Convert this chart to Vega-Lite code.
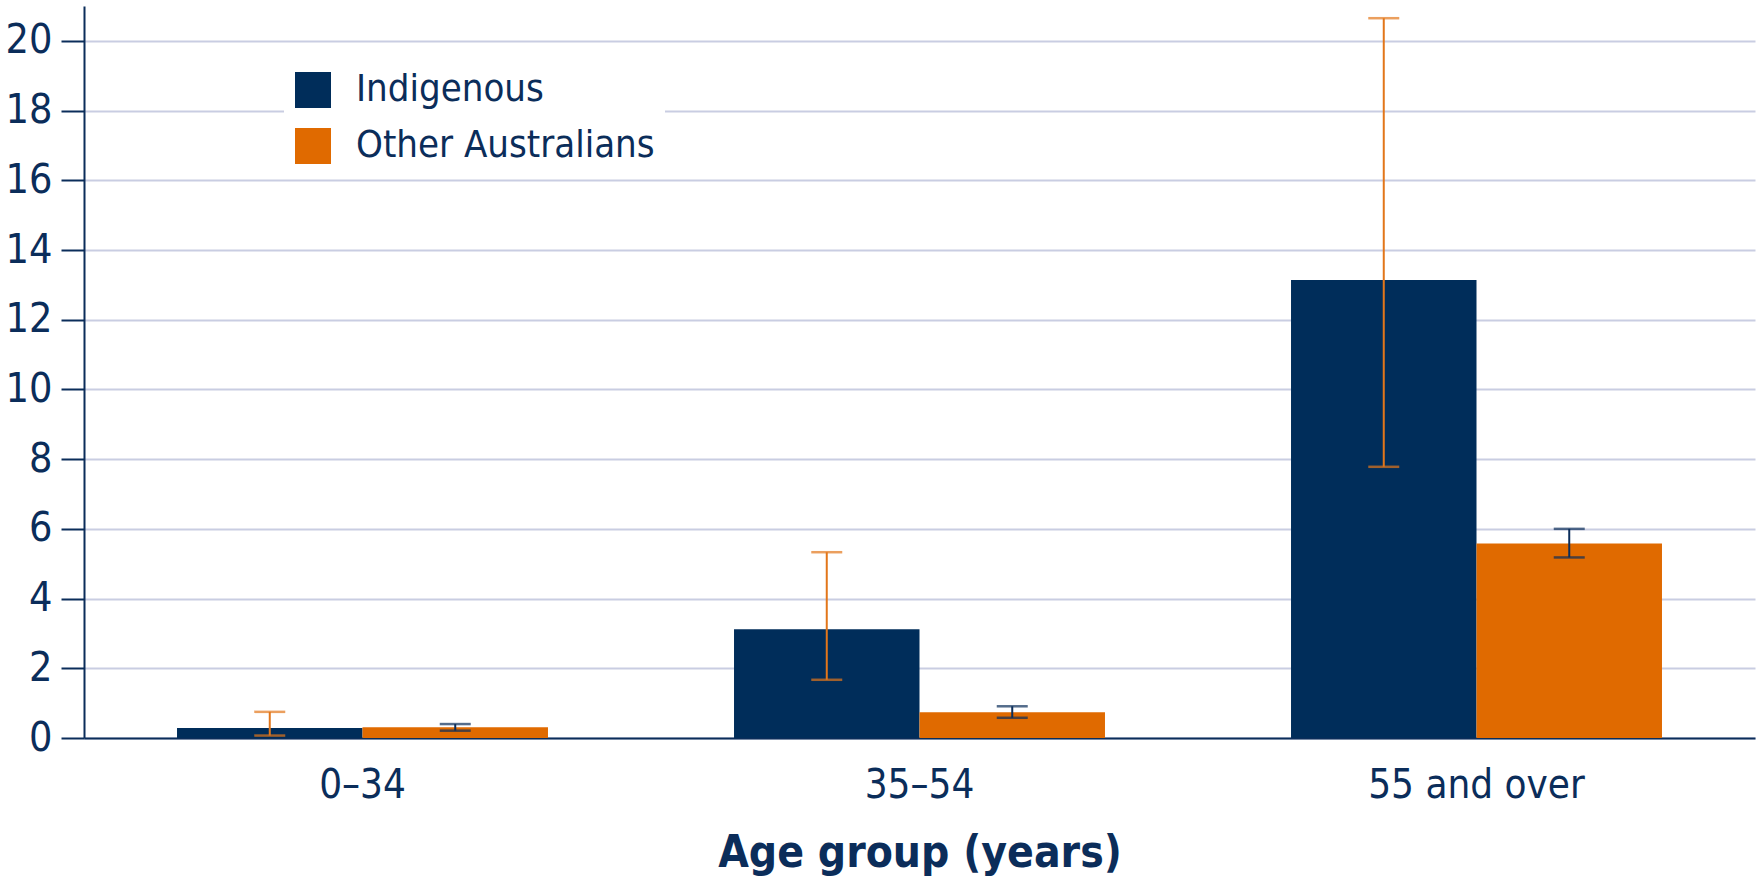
{
  "$schema": "https://vega.github.io/schema/vega-lite/v6.json",
  "autosize": {"type": "none"},
  "padding": {"left": 84, "top": 6, "right": 7, "bottom": 156},
  "width": 1671,
  "height": 732,
  "background": "white",
  "config": {
    "view": {"stroke": null},
    "font": "DejaVu Sans Condensed",
    "axis": {"labelFont": "DejaVu Sans Condensed", "titleFont": "DejaVu Sans Condensed", "labelColor": "#0b2d5a", "titleColor": "#0b2d5a"}
  },
  "data": {
    "values": [
      {"group": "0–34", "series": "Indigenous", "value": 0.29, "lo": 0.07, "hi": 0.75},
      {"group": "0–34", "series": "Other Australians", "value": 0.31, "lo": 0.21, "hi": 0.40},
      {"group": "35–54", "series": "Indigenous", "value": 3.12, "lo": 1.67, "hi": 5.33},
      {"group": "35–54", "series": "Other Australians", "value": 0.74, "lo": 0.58, "hi": 0.91},
      {"group": "55 and over", "series": "Indigenous", "value": 13.14, "lo": 7.78, "hi": 20.65},
      {"group": "55 and over", "series": "Other Australians", "value": 5.58, "lo": 5.18, "hi": 6.0}
    ]
  },
  "encoding": {
    "x": {
      "field": "group", "type": "nominal", "sort": null,
      "scale": {"paddingInner": 0.334, "paddingOuter": 0.167},
      "axis": {
        "title": "Age group (years)", "titleFontSize": 44, "titleFontWeight": "bold", "titlePadding": 26,
        "labelFontSize": 40, "labelAngle": 0, "labelPadding": 27, "ticks": false, "labelLimit": 500,
        "domainColor": "#0b2d5a", "domainWidth": 2, "grid": false
      }
    },
    "xOffset": {"field": "series", "type": "nominal", "sort": ["Indigenous", "Other Australians"]}
  },
  "layer": [
    {
      "mark": {"type": "bar"},
      "encoding": {
        "y": {
          "field": "value", "type": "quantitative",
          "scale": {"domain": [0, 21], "nice": false},
          "axis": {
            "title": null, "values": [0, 2, 4, 6, 8, 10, 12, 14, 16, 18, 20],
            "labelFontSize": 41, "labelPadding": 9, "tickSize": 23, "tickWidth": 2, "tickColor": "#0b2d5a",
            "domainColor": "#0b2d5a", "domainWidth": 2,
            "grid": true, "gridColor": "#c9cde2", "gridWidth": 2
          }
        },
        "color": {
          "field": "series", "type": "nominal", "sort": ["Indigenous", "Other Australians"],
          "scale": {"domain": ["Indigenous", "Other Australians"], "range": ["#002d5a", "#e06a00"]},
          "legend": {
            "title": null, "orient": "none", "legendX": 200, "legendY": 55,
            "fillColor": "white", "padding": 10,
            "symbolType": "square", "symbolSize": 1296, "symbolStrokeWidth": 0,
            "labelFontSize": 38, "labelColor": "#0b2d5a", "labelFont": "DejaVu Sans Condensed",
            "labelOffset": 24, "rowPadding": 18, "labelLimit": 500
          }
        }
      }
    },
    {
      "mark": {"type": "rule", "strokeWidth": 2},
      "encoding": {
        "y": {"field": "lo", "type": "quantitative"},
        "y2": {"field": "hi"},
        "color": {
          "field": "series", "type": "nominal",
          "scale": {"domain": ["Indigenous", "Other Australians"], "range": ["#e2761a", "#0b2d5a"]},
          "legend": null
        }
      }
    },
    {
      "mark": {"type": "tick", "size": 31, "thickness": 2.5},
      "encoding": {
        "y": {"field": "lo", "type": "quantitative"},
        "color": {
          "field": "series", "type": "nominal",
          "scale": {"domain": ["Indigenous", "Other Australians"], "range": ["#e2761a", "#0b2d5a"]},
          "legend": null
        }
      }
    },
    {
      "mark": {"type": "tick", "size": 31, "thickness": 2.5},
      "encoding": {
        "y": {"field": "hi", "type": "quantitative"},
        "color": {
          "field": "series", "type": "nominal",
          "scale": {"domain": ["Indigenous", "Other Australians"], "range": ["#e2761a", "#0b2d5a"]},
          "legend": null
        }
      }
    }
  ],
  "resolve": {"scale": {"color": "independent"}}
}
